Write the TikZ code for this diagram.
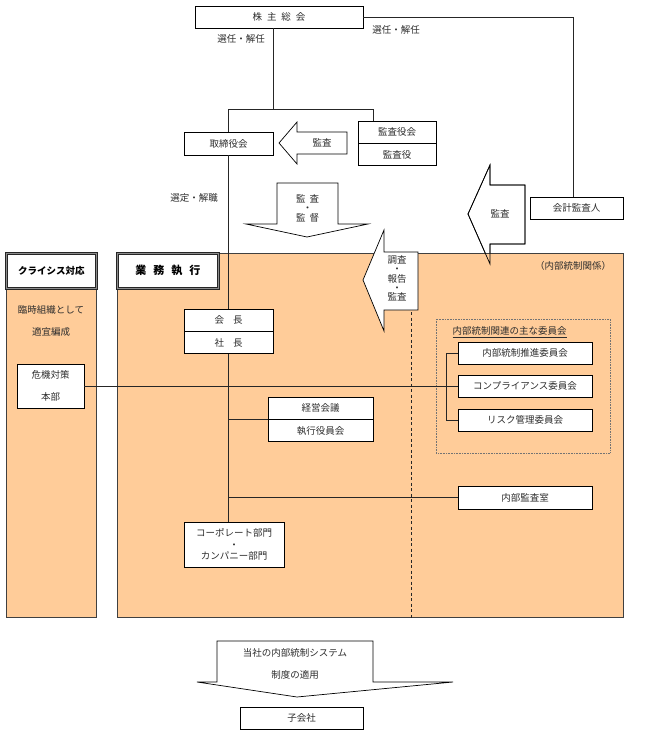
\documentclass[tikz,border=0pt]{standalone}
\usepackage{fontspec}
\setmainfont{Noto Sans CJK JP}
\usepackage{tikz}
\usetikzlibrary{positioning,calc}

\definecolor{panelorange}{RGB}{255,204,153}
\definecolor{inktext}{RGB}{45,45,45}
\newcommand{\jgap}[1][5pt]{\hspace{#1}}

\begin{document}
\begin{tikzpicture}[x=1pt, y=-1pt,
    node distance=0pt,
    box/.style={rectangle, draw=black, fill=white, line width=0.8pt, inner sep=0pt, minimum height=22pt, text=inktext, font=\fontsize{9.5}{11}\selectfont},
    panel/.style={rectangle, draw=black!75, line width=1.1pt, fill=panelorange, inner sep=0pt, anchor=north west},
    header/.style={rectangle, draw=black!85, double=black!45, double distance=1.2pt, line width=0.7pt, fill=white, inner sep=0pt, minimum height=35pt, anchor=north west, font=\bfseries\fontsize{9.5}{11}\selectfont},
    link/.style={draw=black!85, line width=0.8pt},
    bigarrow/.style={draw=black, fill=white, line width=0.7pt, line join=miter},
    label/.style={inner sep=0pt, text=inktext, align=center, font=\fontsize{9.5}{10}\selectfont}
]
    \useasboundingbox (0,0) rectangle (648,735);

    \node[box, minimum width=168pt] (soukai) at (279,17) {株\jgap 主\jgap 総\jgap 会};
    \node[label] (sennin1) at (241,39) {選任・解任};
    \node[label] (sennin2) at (396,30) {選任・解任};
    \node[box, minimum width=89pt, minimum height=23pt] (torishimari) at (228.5,143.5) {取締役会};
    \node[box, minimum width=78pt] (kansayakukai) at (397,132) {監査役会};
    \node[box, minimum width=78pt, below=of kansayakukai] (kansayaku) {監査役};
    \node[box, minimum width=93pt] (kaikei) at (576.5,208) {会計監査人};
    \node[label] (sentei) at (194,198) {選定・解職};

    \filldraw[bigarrow] (525,185) -- (490,185) -- (490,165) -- (468,214) -- (490,264) -- (490,244) -- (525,244) -- cycle;

    \node[panel, minimum width=90pt, minimum height=364pt] (crisis) at (6,253) {};
    \node[panel, minimum width=506pt, minimum height=364pt] (gyomu) at (117,253) {};
    \node[header, minimum width=90pt] (crisishead) at (6,253) {クライシス対応};
    \node[header, minimum width=101pt, font=\bfseries\fontsize{11}{13}\selectfont] (gyomuhead) at (117,253) {業\jgap[7pt]務\jgap[7pt]執\jgap[7pt]行};

    \draw[bigarrow, fill=none] (525,185) -- (490,185) -- (490,165) -- (468,214) -- (490,264) -- (490,244) -- (525,244) -- cycle;
    \node[label] (kansa2) at (500,214) {監査};

    \filldraw[bigarrow] (347,132) -- (297,132) -- (297,122) -- (279,143) -- (297,164) -- (297,154) -- (347,154) -- cycle;
    \node[label] (kansa1) at (322,143) {監査};
    \filldraw[bigarrow] (277,183) -- (338,183) -- (338,224) -- (368,224) -- (307,237) -- (246,224) -- (277,224) -- cycle;
    \node[label, font=\fontsize{9.5}{9.5}\selectfont] (kantoku) at (307.5,208) {監\jgap[4pt]査\\・\\監\jgap[4pt]督};
    \filldraw[bigarrow] (418,252) -- (384,252) -- (384,230) -- (363,280) -- (384,331) -- (384,310) -- (418,310) -- cycle;
    \node[label, font=\fontsize{9.5}{9.3}\selectfont] (chosa) at (397,278.5) {調査\\・\\報告\\・\\監査};

    \node[label] (rinji) at (51,310) {臨時組織として};
    \node[label] (tekigi) at (51,332) {適宜編成};
    \node[box, minimum width=67pt, minimum height=44pt, align=center, font=\fontsize{9.5}{22}\selectfont] (kiki) at (50.5,386) {危機対策\\本部};

    \node[label] (kankei) at (573,266) {（内部統制関係）};
    \node[box, minimum width=89pt] (kaicho) at (228.5,320) {会\jgap[9pt]長};
    \node[box, minimum width=89pt, below=of kaicho] (shacho) {社\jgap[9pt]長};
    \node[box, minimum width=105pt] (keiei) at (320.5,408) {経営会議};
    \node[box, minimum width=105pt, below=of keiei] (shikko) {執行役員会};

    \draw[draw=black!55, densely dotted, line width=0.6pt] (436,319) rectangle (610,453);
    \node[label, font=\fontsize{9.5}{11}\selectfont] (iinkai) at (509.5,332) {\underline{内部統制関連の主な委員会}};
    \node[box, minimum width=134pt] (suishin) at (525,353) {内部統制推進委員会};
    \node[box, minimum width=134pt] (compliance) at (525,386) {コンプライアンス委員会};
    \node[box, minimum width=134pt] (risk) at (525,420) {リスク管理委員会};
    \node[box, minimum width=134pt, minimum height=23pt] (naibu) at (525,497.5) {内部監査室};
    \node[box, minimum width=100pt, minimum height=45pt, align=center, font=\fontsize{9.5}{11.5}\selectfont] (corporate) at (234,544.5) {コーポレート部門\\・\\カンパニー部門};

    \filldraw[bigarrow] (217,641) -- (373,641) -- (373,682) -- (453,682) -- (297,697) -- (197,682) -- (217,682) -- cycle;
    \node[label, font=\fontsize{9.5}{22}\selectfont] (seido) at (295,664) {当社の内部統制システム\\制度の適用};
    \node[box, minimum width=123pt] (kogaisha) at (301.5,718) {子会社};

    \coordinate (fork) at (273,109);
    \coordinate (forkR) at (373,109);
    \coordinate (dashtop) at (411,312);
    \draw[link] (soukai.south -| fork) -- (fork);
    \draw[link] (torishimari.north) |- (forkR) -- (forkR |- kansayakukai.north);
    \draw[link] (soukai.east) -| ([xshift=-3.5pt]kaikei.north);
    \draw[link] (torishimari.south) -- (kaicho.north);
    \draw[link] (shacho.south) -- (shacho.south |- corporate.north);
    \draw[link] (shacho.south |- keiei.south west) -- (keiei.south west);
    \draw[link] (shacho.south |- naibu.west) -- (naibu.west);
    \draw[link] (kiki.east) -- (compliance.west);
    \draw[link] (suishin.west) -- ++(-11,0) |- (risk.west);
    \draw[link, dash pattern=on 3pt off 2.5pt] (dashtop) -- (dashtop |- gyomu.south);
\end{tikzpicture}
\end{document}
